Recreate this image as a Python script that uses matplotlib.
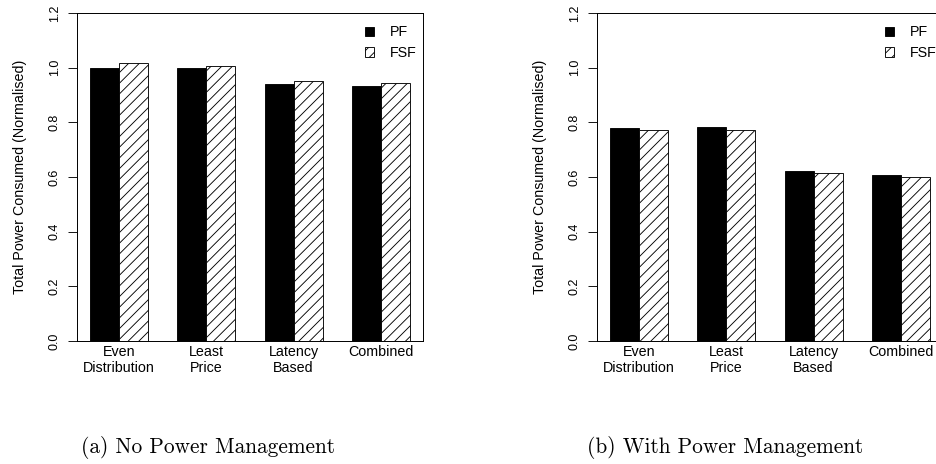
import matplotlib
matplotlib.use('Agg')
import matplotlib.pyplot as plt
from matplotlib.patches import Patch

# data
strategies = ['Even\nDistribution', 'Least\nPrice', 'Latency\nBased', 'Combined']
series_names = ['PF', 'FSF']

no_pm_pf = [1.000, 1.000, 0.941, 0.934]
no_pm_fsf = [1.016, 1.005, 0.952, 0.944]

with_pm_pf = [0.779, 0.782, 0.622, 0.607]
with_pm_fsf = [0.771, 0.773, 0.616, 0.600]

y_ticks = [0.0, 0.2, 0.4, 0.6, 0.8, 1.0, 1.2]
y_label = 'Total Power Consumed (Normalised)'
captions = ['(a) No Power Management', '(b) With Power Management']

plt.rcParams['font.family'] = ['Liberation Sans', 'DejaVu Sans']
plt.rcParams['hatch.linewidth'] = 1.0

DPI = 64  # hatch spacing follows dpi, 64 gives the R-like density
figure = plt.figure(figsize=(936 / DPI, 464 / DPI), dpi=DPI)


def draw_panel(axes, pf_vals, fsf_vals):
    pf_x = [i * 3 + 1.5 for i in range(len(strategies))]
    fsf_x = [i * 3 + 2.5 for i in range(len(strategies))]
    axes.bar(pf_x, pf_vals, width=1.0, color='black', edgecolor='black', linewidth=1.0)
    axes.bar(fsf_x, fsf_vals, width=1.0, color='white', edgecolor='black',
             linewidth=1.0, hatch='//')
    axes.set_xlim(0.56, 12.44)
    axes.set_ylim(0, 1.2)
    axes.set_xticks([i * 3 + 2 for i in range(len(strategies))])
    axes.set_xticklabels(strategies, fontsize=16, linespacing=1.25)
    axes.tick_params(axis='x', length=0, pad=4)
    axes.set_yticks(y_ticks)
    axes.set_yticklabels(['%.1f' % t for t in y_ticks], fontsize=14, va='center')
    axes.tick_params(axis='y', length=10, width=1.0, pad=8, labelrotation=90)
    for spine in axes.spines.values():
        spine.set_linewidth(1.1)
    axes.set_ylabel(y_label, fontsize=16)
    axes.yaxis.set_label_coords(-0.145, 0.5)
    handles = [Patch(facecolor='black', edgecolor='black', linewidth=1.0),
               Patch(facecolor='white', edgecolor='black', linewidth=1.0, hatch='//')]
    axes.legend(handles, series_names, loc='upper left', bbox_to_anchor=(0.832, 0.962),
                frameon=False, fontsize=16, handlelength=0.63, handleheight=0.63,
                handletextpad=1.13, labelspacing=0.45, borderpad=0, borderaxespad=0)


# axes boxes measured in pixels: left panel 77..423 x, 13..341 y
ax_w = 346 / 936
ax_h = 328 / 464
ax_bottom = (464 - 341) / 464

axes_a = figure.add_axes([77 / 936, ax_bottom, ax_w, ax_h])
draw_panel(axes_a, no_pm_pf, no_pm_fsf)

axes_b = figure.add_axes([597 / 936, ax_bottom, ax_w, ax_h])
draw_panel(axes_b, with_pm_pf, with_pm_fsf)

figure.text(81 / 936, 1 - 453 / 464, captions[0], family='cmr10', fontsize=24,
            ha='left', va='baseline')
figure.text(587 / 936, 1 - 453 / 464, captions[1], family='cmr10', fontsize=24,
            ha='left', va='baseline')

figure.savefig('out.png', dpi=DPI)
